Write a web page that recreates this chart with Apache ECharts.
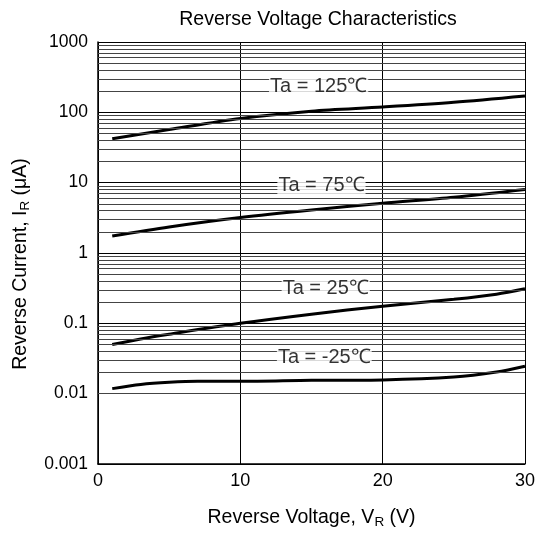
<!DOCTYPE html>
<html>
<head>
<meta charset="utf-8">
<script src="https://cdn.jsdelivr.net/npm/echarts@6/dist/echarts.min.js"></script>
<style>html,body{margin:0;padding:0;background:#fff;overflow:hidden;}#c{width:538px;height:534px;}</style>
</head>
<body>
<div id="c"></div>
<script>
// ---- data ----
const xTicks = [0, 10, 20, 30];
const yTickLabels = ['0.001', '0.01', '0.1', '1', '10', '100', '1000'];
const curve125 = [[1,42],[5,57],[10,82],[15,104],[20,119],[25,139],[30,171]];
const curve75  = [[1,1.75],[5,2.35],[10,3.2],[15,4.1],[20,5.1],[25,6.2],[30,8.0]];
const curve25  = [[1,0.05],[3,0.06],[5,0.07],[10,0.1],[15,0.135],[20,0.175],[25,0.22],[28,0.26],[30,0.31]];
const curveM25 = [[1,0.0118],[3,0.0135],[5,0.0145],[7,0.015],[10,0.015],[15,0.0155],[20,0.0157],[25,0.0172],[28,0.0203],[30,0.0245]];
const labelTexts = ['Ta = 125℃', 'Ta = 75℃', 'Ta = 25℃', 'Ta = -25℃'];
const labelPoints = [[15.5,235],[15.7,9.0],[16.0,0.315],[15.9,0.0328]];
const decades = [0.001, 0.01, 0.1, 1, 10, 100];
const minorFactors = [2,3,4,5,6,7,8,9];

const FONT = '"Liberation Sans", Arial, sans-serif';
const minorLines = [];
decades.forEach(d => minorFactors.forEach(f => minorLines.push({ yAxis: +(d * f).toPrecision(3) })));

const chart = echarts.init(document.getElementById('c'), null, { renderer: 'canvas', width: 538, height: 534 });
const curveSeries = (data) => ({
  type: 'line', data, showSymbol: false, smooth: 0.3,
  lineStyle: { color: '#000', width: 3 }, z: 4, silent: true
});
chart.setOption({
  animation: false,
  backgroundColor: '#fff',
  title: {
    text: 'Reverse Voltage Characteristics', left: 313, top: 5, textAlign: 'center',
    textStyle: { fontFamily: FONT, fontSize: 19.5, fontWeight: 'normal', color: '#000' }
  },
  grid: { left: 98, width: 428, top: 42, height: 427, containLabel: false },
  xAxis: {
    type: 'value', min: 0, max: 30, interval: 10,
    axisLine: { show: true, lineStyle: { color: '#000', width: 1.5 } },
    axisTick: { show: false },
    axisLabel: { fontFamily: FONT, fontSize: 18, color: '#000', margin: 8,
      formatter: v => xTicks.includes(v) ? String(v) : '' },
    splitLine: { show: true, lineStyle: { color: '#000', width: 1 } },
    name: '{n|Reverse Voltage, V}{s|R}{n| (V)}', nameLocation: 'middle', nameGap: 43,
    nameTextStyle: { rich: {
      n: { fontFamily: FONT, fontSize: 19.5, color: '#000', lineHeight: 22 },
      s: { fontFamily: FONT, fontSize: 13.5, color: '#000', lineHeight: 9, verticalAlign: 'bottom' }
    } }
  },
  yAxis: {
    type: 'log', logBase: 10, min: 0.001, max: 1000,
    axisLine: { show: true, lineStyle: { color: '#000', width: 1.5 } },
    axisTick: { show: false },
    axisLabel: { fontFamily: FONT, fontSize: 17.5, color: '#000', margin: 10,
      formatter: v => yTickLabels[Math.round(Math.log10(v)) + 3] },
    splitLine: { show: true, lineStyle: { color: '#000', width: 1 } },
    minorTick: { show: false }, minorSplitLine: { show: false },
    name: '{n|Reverse Current, I}{s|R}{n| (μA)}', nameLocation: 'middle', nameGap: 66,
    nameTextStyle: { padding: [0, 22, 0, 0], rich: {
      n: { fontFamily: FONT, fontSize: 19.5, color: '#000', lineHeight: 22 },
      s: { fontFamily: FONT, fontSize: 13.5, color: '#000', lineHeight: 9, verticalAlign: 'bottom' }
    } }
  },
  series: [
    {
      type: 'line', data: [], silent: true, z: 1,
      markLine: {
        silent: true, symbol: 'none', animation: false,
        label: { show: false },
        lineStyle: { type: 'solid', color: '#444', width: 1 },
        data: minorLines
      }
    },
    curveSeries(curve125),
    curveSeries(curve75),
    curveSeries(curve25),
    curveSeries(curveM25),
    {
      type: 'scatter', symbolSize: 0, z: 6, silent: true,
      data: labelPoints.map((p, i) => ({ value: p, name: labelTexts[i] })),
      label: { show: true, position: 'inside', formatter: p => p.name,
        fontFamily: FONT, fontSize: 20, color: '#000', backgroundColor: '#fff', padding: [1, 1] }
    }
  ]
});
</script>
</body>
</html>
